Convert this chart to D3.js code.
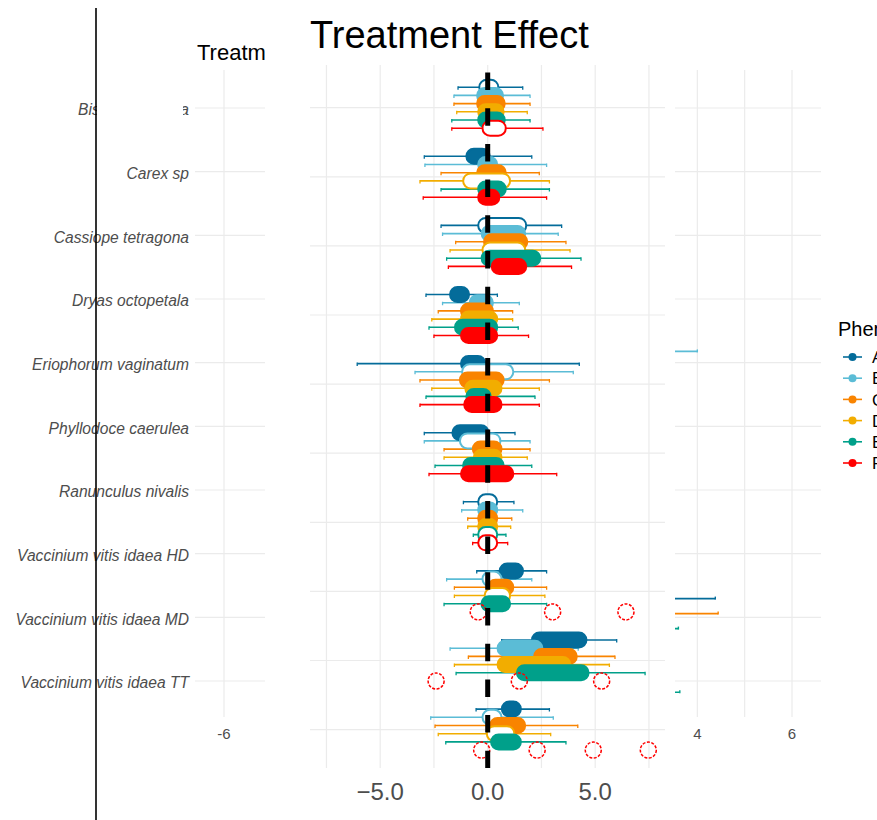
<!DOCTYPE html>
<html><head><meta charset="utf-8">
<script src="https://cdn.jsdelivr.net/npm/d3@7"></script>
<style>html,body{margin:0;padding:0;background:#fff}svg{display:block;font-family:"Liberation Sans",Arial,sans-serif}</style>
</head><body><div id="chart"></div>
<script>
const species = ["Bistorta vivipara","Carex sp","Cassiope tetragona","Dryas octopetala","Eriophorum vaginatum","Phyllodoce caerulea","Ranunculus nivalis","Vaccinium vitis idaea HD","Vaccinium vitis idaea MD","Vaccinium vitis idaea TT"];
const phases = ["A","B","C","D","E","F"];
const phaseColors = ["#046C9A","#5BBCD6","#F98400","#F2AD00","#00A08A","#FF0000"];
const fgTicks = [-5, 0, 5];
const bgTicks = [-6, -4, -2, 0, 2, 4, 6];

// error bar lower / upper, point range (p1..p2) per phase, by species
const loA = [-1.38,-2.95,-2.17,-2.87,-6.07,-2.95,-1.13,-0.51,0.65,-0.54];
const hiA = [1.63,2.05,3.44,0.45,4.26,1.27,1.22,2.74,6.0,2.87];
const p1A = [0.05,-0.55,0.0,-1.31,-0.8,-1.2,0.0,1.0,2.5,1.1];
const p2A = [0.05,-0.35,1.35,-1.31,-0.55,-0.4,0.0,1.2,4.15,1.1];
const sigA = [0,1,0,1,1,1,0,1,1,1];

const loB = [-1.57,-2.92,-2.1,-2.1,-3.38,-2.95,-1.21,-1.91,-1.75,-2.65];
const hiB = [1.97,2.74,3.28,1.47,3.98,1.97,1.63,2.05,4.21,3.05];
const p1B = [-0.05,0.0,0.16,-0.4,-0.75,-0.85,0.0,0.2,0.9,0.2];
const p2B = [0.27,0.0,1.3,-0.2,0.75,0.15,0.0,0.2,2.1,0.2];
const sigB = [1,1,1,1,0,0,1,0,1,0];

const loC = [-1.57,-2.17,-1.49,-2.3,-3.15,-2.03,-0.93,-1.55,-0.9,-2.45];
const hiC = [1.97,2.4,3.64,1.16,2.87,1.97,1.12,2.74,5.92,4.19];
const p1C = [-0.05,-0.05,0.27,-0.8,-0.85,-0.25,0.0,0.45,2.6,0.55];
const p2C = [0.35,0.4,1.4,-0.2,0.3,0.2,0.0,0.75,3.7,1.3];
const sigC = [1,1,1,1,1,1,1,1,1,1];

const loD = [-1.44,-3.15,-1.75,-2.6,-2.6,-2.03,-0.93,-1.55,-1.55,-2.3];
const hiD = [1.84,2.87,3.83,1.16,2.4,1.84,1.07,2.66,5.66,2.93];
const p1D = [0.0,-0.7,0.2,-0.8,-0.6,-0.2,0.0,0.3,0.9,0.4];
const p2D = [0.3,0.6,1.3,0.0,0.2,0.2,0.0,0.6,3.4,0.8];
const sigD = [1,0,0,1,1,1,1,0,1,0];

const loE = [-1.67,-2.17,-1.91,-2.73,-2.87,-2.45,-0.67,-2.03,-1.47,-1.95];
const hiE = [1.97,2.87,4.34,1.42,2.2,2.05,0.85,2.74,7.32,3.64];
const p1E = [0.0,0.0,0.16,-1.08,-0.55,-0.7,0.0,0.15,1.8,0.6];
const p2E = [0.35,0.4,2.0,0.0,-0.3,0.3,0.0,0.6,4.25,1.1];
const sigE = [1,1,1,1,1,1,0,1,1,1];

const loF = [-1.67,-3.0,-1.83,-2.5,-3.15,-2.73,-0.7,null,null,null];
const hiF = [2.57,2.74,3.9,1.9,2.4,3.21,0.93,null,null,null];
const p1F = [0.2,0.0,0.63,-0.8,-0.65,-0.8,0.0,null,null,null];
const p2F = [0.4,0.1,1.35,0.0,0.2,0.75,0.0,null,null,null];
const sigF = [0,1,1,1,1,1,0,0,0,0];

// scattered F estimates for the Vaccinium rows
const outSpecies = ["Vaccinium vitis idaea HD","Vaccinium vitis idaea HD","Vaccinium vitis idaea HD","Vaccinium vitis idaea MD","Vaccinium vitis idaea MD","Vaccinium vitis idaea MD","Vaccinium vitis idaea TT","Vaccinium vitis idaea TT","Vaccinium vitis idaea TT","Vaccinium vitis idaea TT"];
const outValues = [-0.44,3.02,6.43,-2.4,1.47,5.3,-0.28,2.3,4.91,7.47];

// background (underlying) plot: error bar tails visible beside the overlay
const bgTailSpecies = ["Eriophorum vaginatum","Vaccinium vitis idaea MD","Vaccinium vitis idaea MD","Vaccinium vitis idaea MD","Vaccinium vitis idaea TT"];
const bgTailPhase = ["B","A","C","E","E"];
const bgTailLo = [-1,-1,-1,-1,-1];
const bgTailHi = [4.0,4.38,4.44,3.6,3.63];

const series = [
  {lo:loA,hi:hiA,p1:p1A,p2:p2A,sig:sigA},
  {lo:loB,hi:hiB,p1:p1B,p2:p2B,sig:sigB},
  {lo:loC,hi:hiC,p1:p1C,p2:p2C,sig:sigC},
  {lo:loD,hi:hiD,p1:p1D,p2:p2D,sig:sigD},
  {lo:loE,hi:hiE,p1:p1E,p2:p2E,sig:sigE},
  {lo:loF,hi:hiF,p1:p1F,p2:p2F,sig:sigF}
];
const rows = [];
series.forEach((s,pi)=>species.forEach((sp,si)=>{
  if (s.lo[si]!==null) rows.push({sp, ph:phases[pi], lo:s.lo[si], hi:s.hi[si], p1:s.p1[si], p2:s.p2[si], sig:s.sig[si]});
}));

const color = d3.scaleOrdinal(phases, phaseColors);
const svg = d3.select("#chart").append("svg").attr("width",877).attr("height",820);
const grid = "#ebebeb";

// ---------- background plot ----------
const bx = d3.scaleLinear([-6,6],[224,792]);
const by = d3.scalePoint(species,[108,681]);
const bd = d3.scalePoint(phases,[-18.75,18.75]);
const bg = svg.append("g");
bg.selectAll("line.bv").data(d3.range(-6,7,1)).join("line")
  .attr("x1",d=>bx(d)).attr("x2",d=>bx(d)).attr("y1",70).attr("y2",717)
  .attr("stroke",grid).attr("stroke-width",1.2);
bg.selectAll("line.bh").data(species).join("line")
  .attr("x1",195).attr("x2",821).attr("y1",d=>by(d)).attr("y2",d=>by(d))
  .attr("stroke",grid).attr("stroke-width",1.2);
bg.selectAll("text.bt").data(bgTicks).join("text")
  .attr("x",d=>bx(d)).attr("y",739).attr("text-anchor","middle")
  .attr("font-size",15).attr("fill","#4d4d4d").text(d=>d);
bg.append("text").attr("x",197).attr("y",60).attr("font-size",22).attr("fill","#000").text("Treatment Effect");
bgTailSpecies.forEach((sp,i)=>{
  const y = by(sp)+bd(bgTailPhase[i]);
  bg.append("line").attr("x1",bx(bgTailLo[i])).attr("x2",bx(bgTailHi[i])).attr("y1",y).attr("y2",y)
    .attr("stroke",color(bgTailPhase[i])).attr("stroke-width",1.6);
  bg.append("line").attr("x1",bx(bgTailHi[i])).attr("x2",bx(bgTailHi[i])).attr("y1",y-2).attr("y2",y+1)
    .attr("stroke",color(bgTailPhase[i])).attr("stroke-width",1.4);
});
bg.selectAll("text.lab").data(species).join("text")
  .attr("x",189).attr("y",d=>by(d)+2).attr("dy","0.35em").attr("text-anchor","end")
  .attr("font-style","italic").attr("font-size",15.6).attr("fill","#4d4d4d").text(d=>d);
bg.append("rect").attr("x",97).attr("y",by(species[0])-12).attr("width",86).attr("height",26).attr("fill","#fff");
bg.append("line").attr("x1",96).attr("x2",96).attr("y1",8).attr("y2",820).attr("stroke","#000").attr("stroke-width",1.6);

// ---------- legend ----------
const lg = svg.append("g");
lg.append("text").attr("x",838).attr("y",336).attr("font-size",20).attr("fill","#000").text("Phenology");
phases.forEach((p,i)=>{
  const y = 357 + i*21.2;
  lg.append("line").attr("x1",843).attr("x2",862).attr("y1",y).attr("y2",y).attr("stroke",color(p)).attr("stroke-width",1.6);
  lg.append("circle").attr("cx",852.5).attr("cy",y).attr("r",4).attr("fill",color(p));
  lg.append("text").attr("x",872).attr("y",y).attr("dy","0.36em").attr("font-size",17).attr("fill","#000").text(p);
});

// ---------- overlay plot ----------
svg.append("rect").attr("x",265).attr("y",0).attr("width",410).attr("height",820).attr("fill","#fff");
const fx = d3.scaleLinear([-5,5],[380.2,595.2]);
const fy = d3.scalePoint(species,[107.7,729.6]);
const fd = d3.scalePoint(phases,[-20.5,20.5]);
const fg = svg.append("g");
fg.selectAll("line.fv").data(d3.range(-7.5,7.6,2.5)).join("line")
  .attr("x1",d=>fx(d)).attr("x2",d=>fx(d)).attr("y1",65).attr("y2",768)
  .attr("stroke",grid).attr("stroke-width",1.2);
fg.selectAll("line.fh").data(species).join("line")
  .attr("x1",310).attr("x2",665).attr("y1",d=>fy(d)).attr("y2",d=>fy(d))
  .attr("stroke",grid).attr("stroke-width",1.2);
fg.selectAll("text.ft").data(fgTicks).join("text")
  .attr("x",d=>fx(d)).attr("y",800).attr("text-anchor","middle")
  .attr("font-size",24).attr("fill","#4d4d4d").text(d=>d3.format(".1f")(d));
fg.append("text").attr("x",310).attr("y",48).attr("font-size",38).attr("fill","#000").text("Treatment Effect");

// error bars
fg.selectAll("line.eb").data(rows).join("line")
  .attr("x1",d=>fx(d.lo)).attr("x2",d=>fx(d.hi))
  .attr("y1",d=>fy(d.sp)+fd(d.ph)).attr("y2",d=>fy(d.sp)+fd(d.ph))
  .attr("stroke",d=>color(d.ph)).attr("stroke-width",1.6);
fg.selectAll("path.cap").data(rows).join("path")
  .attr("d",d=>{const y=fy(d.sp)+fd(d.ph);return `M${fx(d.lo)},${y-1}V${y+2.5}M${fx(d.hi)},${y-1}V${y+2.5}`;})
  .attr("stroke",d=>color(d.ph)).attr("stroke-width",1.3);
// estimates
fg.selectAll("rect.pt").data(rows).join("rect")
  .attr("x",d=>fx(d.p1)-9.5).attr("width",d=>fx(d.p2)-fx(d.p1)+19)
  .attr("y",d=>fy(d.sp)+fd(d.ph)-7.5).attr("height",15).attr("rx",7.5)
  .attr("fill",d=>d.sig?color(d.ph):"#fff")
  .attr("stroke",d=>color(d.ph)).attr("stroke-width",2);
// scattered F estimates
fg.selectAll("circle.out").data(outValues).join("circle")
  .attr("cx",d=>fx(d)).attr("cy",(d,i)=>fy(outSpecies[i])+fd("F")).attr("r",8)
  .attr("fill","none").attr("stroke",color("F")).attr("stroke-width",1.5).attr("stroke-dasharray","3,1.5");
// zero line
fg.append("line").attr("x1",fx(0)).attr("x2",fx(0)).attr("y1",72.5).attr("y2",768)
  .attr("stroke","#000").attr("stroke-width",5).attr("stroke-dasharray","17.5,18.2");
</script></body></html>
